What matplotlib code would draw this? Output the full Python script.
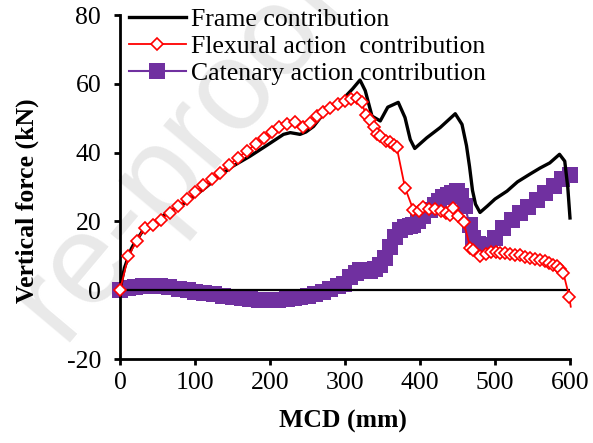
import matplotlib
matplotlib.use("Agg")
import matplotlib.pyplot as plt

plt.rcParams['font.family'] = ['Liberation Serif', 'DejaVu Serif']
plt.rcParams['axes.unicode_minus'] = False

# Frame contribution (black line)
frame_x = [0, 3, 6, 10, 15, 20, 25, 31, 40, 50, 60, 75, 89, 100, 115, 133, 150, 173,
           195, 218, 227, 235, 240, 248, 258, 276, 297, 310, 320, 327, 336, 347, 357,
           371, 380, 387, 393, 409, 427, 447, 456, 462, 466, 470, 474, 480, 490, 500,
           516, 530, 547, 560, 573, 586, 593, 597, 600]
frame_y = [0, 3.5, 6.5, 9, 12, 14, 15.5, 17.5, 19, 20.5, 22, 24, 25.7, 27.5, 30, 33.3,
           36, 38.9, 42, 45.3, 45.8, 45.5, 45.3, 46, 47.6, 52.6, 55.5, 58.5, 61.1, 58,
           50.6, 49.2, 53.2, 54.6, 50.2, 43.8, 41.2, 44.3, 47.3, 51.3, 48.2, 42, 36,
           29, 25, 22.6, 24.5, 26.5, 28.8, 31.5, 33.8, 35.5, 37, 39.5, 37.5, 30, 21]

# Flexural action contribution (red, open diamonds)
flex_x = [0, 11, 22, 33, 44, 55, 66, 77, 89, 100, 111, 122, 133, 145, 157, 169, 181,
          192, 203, 212, 222, 233, 244, 253, 262, 271, 280, 290, 300, 308, 316, 322,
          328, 333, 338, 343, 347, 354, 360, 365, 369, 380, 391, 398, 404, 412, 420,
          428, 435, 440, 444, 450, 458, 467, 471, 480, 488, 495, 501, 507, 513, 520,
          527, 533, 540, 547, 553, 560, 566, 572, 577, 582, 587, 591, 599, 601]
flex_y = [0, 9.8, 14.3, 18.2, 19, 20.5, 22.5, 24.5, 26.4, 28.5, 30.5, 32.3, 34.2, 36.3,
          38.5, 40.4, 42.5, 44.3, 46, 47.3, 48.3, 49, 47.3, 48.5, 50.5, 51.8, 53, 54,
          55, 55.5, 56, 54.6, 51, 49.6, 47.3, 45.5, 44.7, 43.5, 43, 42.2, 41.5, 29.8,
          23.4, 23, 24.3, 23.5, 23.5, 23, 22.5, 22, 24, 21.5, 19.9, 12.4, 11.8, 9.8,
          10.5, 11, 11.2, 10.9, 10.7, 10.5, 10.3, 10.3, 9.7, 9.3, 9.1, 8.9, 8.4, 7.8,
          7.4, 6.9, 6.2, 5.1, -1.9, -4.8]

# Catenary action contribution (purple, filled squares)
cat_x = [0, 10, 20, 30, 40, 53, 65, 78, 90, 100, 112, 125, 137, 150, 162, 173, 185,
         197, 210, 222, 232, 240, 250, 260, 270, 280, 290, 298, 307, 314, 320, 327,
         333, 340, 347, 353, 360, 366, 373, 380, 386, 391, 397, 404, 413, 420, 425,
         431, 437, 443, 449, 455, 460, 466, 471, 477, 483, 493, 500, 511, 522, 533,
         544, 556, 567, 578, 589, 600]
cat_y = [0, 0.6, 1.0, 1.2, 1.3, 1.2, 0.9, 0.4, 0, -0.4, -0.8, -1.2, -1.6, -2.0, -2.4,
         -2.65, -2.8, -2.9, -2.8, -2.6, -2.4, -2.1, -1.7, -1.2, -0.5, 0.3, 1.2, 1.8,
         3.8, 5.0, 5.9, 5.8, 5.5, 6.2, 7.4, 9.5, 12.6, 15.5, 17.6, 18.3, 18.7, 19,
         20.2, 21.5, 23.4, 24.8, 26, 27.2, 27.8, 28.4, 28.7, 27.5, 24.5, 19, 15.3,
         13.5, 12.4, 13.2, 15.3, 18.1, 20.5, 22.5, 24.3, 26.3, 28.4, 30.2, 32.2, 33.6]

x_ticks = [0, 100, 200, 300, 400, 500, 600]
y_ticks = [-20, 0, 20, 40, 60, 80]

FS = 18.5

fig = plt.figure(figsize=(5.93, 4.43), dpi=100)
ax = fig.add_axes([120 / 593, 1 - 359 / 443, 450 / 593, 344 / 443])
ax.patch.set_alpha(0)

# faint diagonal watermark behind the plot
fig.text(180 / 593, 1 - 150 / 443, "re-proof", fontsize=92, color="#e9e9e9",
         family="Liberation Sans", rotation=50, rotation_mode="anchor",
         ha="center", va="center", zorder=-5)

ax.axhline(0, color="black", lw=1.6, zorder=3.5)
ax.plot(cat_x, cat_y, color="#7030A0", lw=1.5, marker="s", ms=11.5, mew=0,
        label="Catenary action contribution", zorder=2, clip_on=False)
ax.plot(frame_x, frame_y, color="black", lw=2.4, label="Frame contribution",
        zorder=3, clip_on=False)
ax.plot(flex_x, flex_y, color="red", lw=1.3, marker="D", ms=6.5, mfc="white",
        mec="red", mew=1.2, markevery=list(range(len(flex_x) - 1)),
        label="Flexural action  contribution", zorder=4, clip_on=False)

ax.set_xlim(0, 600)
ax.set_ylim(-20, 80)
ax.set_xticks(x_ticks)
ax.set_yticks(y_ticks)

for s in ("top", "right"):
    ax.spines[s].set_visible(False)
for s in ("left", "bottom"):
    ax.spines[s].set_linewidth(2.0)
ax.tick_params(axis="both", direction="out", length=4.5, width=2.0, labelsize=FS)
ax.tick_params(axis="x", pad=5)
ax.tick_params(axis="y", pad=9)

fig.text(27 / 593, 1 - 201 / 443, "Vertical force (kN)", rotation=90,
         fontsize=FS, fontweight="bold", ha="center", va="center")
fig.text(343 / 593, 1 - 421 / 443, "MCD (mm)", fontsize=FS, fontweight="bold",
         ha="center", va="center")

h, l = ax.get_legend_handles_labels()
order = [1, 2, 0]
ax.legend([h[i] for i in order], [l[i] for i in order], loc="upper left",
          bbox_to_anchor=(0.02, 1.02), frameon=False, fontsize=FS,
          handlelength=2.2, handletextpad=0.2, labelspacing=0.15, borderpad=0,
          numpoints=1, borderaxespad=0)

fig.savefig("out.png", dpi=100)
